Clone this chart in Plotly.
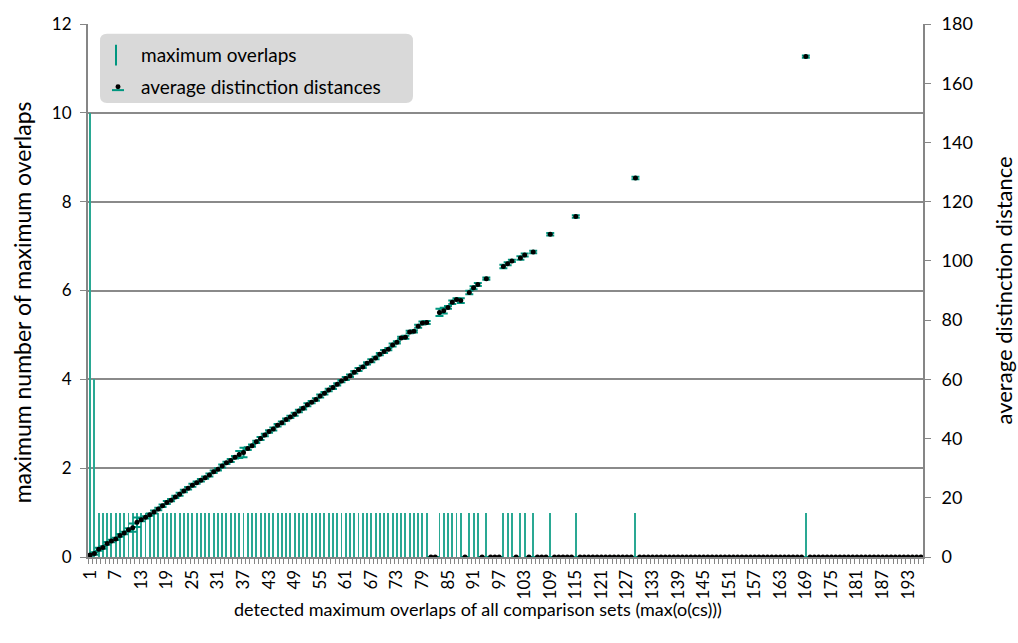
import plotly.graph_objects as go

# ---------------- data ----------------
categories = list(range(1, 197))

tick_labels = ["1", "7", "13", "19", "25", "31", "37", "43", "49", "55", "61", "67",
               "73", "79", "85", "91", "97", "103", "109", "115", "121", "127", "133",
               "139", "145", "151", "157", "163", "169", "175", "181", "187", "193"]

# maximum number of maximum overlaps (left axis)
max_overlaps = [
    10, 4, 1, 1, 1, 1, 1, 1, 1, 1,
    1, 1, 1, 1, 1, 1, 1, 1, 1, 1,
    1, 1, 1, 1, 1, 1, 1, 1, 1, 1,
    1, 1, 1, 1, 1, 1, 1, 1, 1, 1,
    1, 1, 1, 1, 1, 1, 1, 1, 1, 1,
    1, 1, 1, 1, 1, 1, 1, 1, 1, 1,
    1, 1, 1, 1, 1, 1, 1, 1, 1, 1,
    1, 1, 1, 1, 1, 1, 1, 1, 1, 1,
    0, 0, 1, 1, 1, 1, 1, 1, 0, 1,
    1, 1, 0, 1, 0, 0, 0, 1, 1, 1,
    0, 1, 1, 0, 1, 0, 0, 0, 1, 0,
    0, 0, 0, 0, 1, 0, 0, 0, 0, 0,
    0, 0, 0, 0, 0, 0, 0, 0, 1, 0,
    0, 0, 0, 0, 0, 0, 0, 0, 0, 0,
    0, 0, 0, 0, 0, 0, 0, 0, 0, 0,
    0, 0, 0, 0, 0, 0, 0, 0, 0, 0,
    0, 0, 0, 0, 0, 0, 0, 0, 1, 0,
    0, 0, 0, 0, 0, 0, 0, 0, 0, 0,
    0, 0, 0, 0, 0, 0, 0, 0, 0, 0,
    0, 0, 0, 0, 0, 0,
]

# average distinction distance (right axis)
avg_distance = [
    0.7, 1.2, 2.6, 3.2, 4.6, 5.4, 6.1, 7.3, 8.1, 9.2,
    9.9, 11.7, 12.6, 13.4, 14.3, 15.2, 16.2, 17.3, 18.4, 19.2,
    20.3, 21.2, 22.3, 23.2, 24.2, 25.1, 25.9, 26.8, 27.7, 28.8,
    29.6, 30.7, 31.8, 32.6, 33.7, 34.6, 35.3, 36.6, 37.6, 38.9,
    40.0, 41.2, 42.4, 43.2, 44.5, 45.3, 46.4, 47.3, 48.2, 49.3,
    50.2, 51.4, 52.3, 53.2, 54.4, 55.3, 56.4, 57.2, 58.3, 59.4,
    60.3, 61.2, 62.4, 63.3, 64.2, 65.4, 66.3, 67.2, 68.5, 69.4,
    70.2, 71.6, 72.5, 74.0, 74.2, 76.0, 76.2, 77.9, 79.0, 79.2,
    0, 0, 82.6, 83.2, 84.3, 86.0, 87.0, 86.6, 0, 89.3,
    90.9, 92.0, 0, 94.0, 0, 0, 0, 98.1, 99.0, 100.0,
    0, 101.0, 102.0, 0, 103.0, 0, 0, 0, 109.0, 0,
    0, 0, 0, 0, 115.0, 0, 0, 0, 0, 0,
    0, 0, 0, 0, 0, 0, 0, 0, 128.0, 0,
    0, 0, 0, 0, 0, 0, 0, 0, 0, 0,
    0, 0, 0, 0, 0, 0, 0, 0, 0, 0,
    0, 0, 0, 0, 0, 0, 0, 0, 0, 0,
    0, 0, 0, 0, 0, 0, 0, 0, 169.0, 0,
    0, 0, 0, 0, 0, 0, 0, 0, 0, 0,
    0, 0, 0, 0, 0, 0, 0, 0, 0, 0,
    0, 0, 0, 0, 0, 0,
]

distance_error = [
    0.3, 0.4, 0.5, 0.4, 0.5, 0.4, 0.4, 0.5, 0.4, 0.5,
    1.4, 1.6, 0.5, 0.4, 0.4, 0.5, 0.4, 0.4, 0.5, 0.4,
    0.4, 0.5, 0.4, 0.4, 0.5, 0.4, 0.4, 0.4, 0.5, 0.4,
    0.4, 0.5, 0.4, 0.5, 0.4, 1.2, 1.6, 0.5, 0.4, 0.4,
    0.5, 0.4, 0.4, 0.5, 0.4, 0.5, 0.4, 0.4, 0.5, 0.4,
    0.4, 0.5, 0.4, 0.4, 0.5, 0.4, 0.4, 0.5, 0.4, 0.4,
    0.5, 0.4, 0.4, 0.5, 0.4, 0.4, 0.5, 0.4, 0.4, 0.5,
    0.4, 0.5, 0.4, 0.4, 0.5, 0.4, 0.4, 0.5, 0.5, 0.5,
    0, 0, 1.2, 1.0, 0.5, 0.6, 0.4, 0.8, 0, 0.6,
    0.5, 0.5, 0, 0.4, 0, 0, 0, 0.6, 0.5, 0.4,
    0, 0.6, 0.5, 0, 0.4, 0, 0, 0, 0.4, 0,
    0, 0, 0, 0, 0.4, 0, 0, 0, 0, 0,
    0, 0, 0, 0, 0, 0, 0, 0, 0.4, 0,
    0, 0, 0, 0, 0, 0, 0, 0, 0, 0,
    0, 0, 0, 0, 0, 0, 0, 0, 0, 0,
    0, 0, 0, 0, 0, 0, 0, 0, 0, 0,
    0, 0, 0, 0, 0, 0, 0, 0, 0.4, 0,
    0, 0, 0, 0, 0, 0, 0, 0, 0, 0,
    0, 0, 0, 0, 0, 0, 0, 0, 0, 0,
    0, 0, 0, 0, 0, 0,
]

# ---------------- style ----------------
TEAL = "#00967f"
BAR_TEAL = "#2aa893"
GRID = "#8a8a8a"
AXIS = "#868686"
FONT = "Lato"
W, H = 1018, 643
L, R, T, B = 88, 95, 17, 86
PW, PH = W - L - R, H - T - B


def px(x):
    return (x - L) / PW


def py(y):
    return (H - B - y) / PH


fig = go.Figure()

fig.add_trace(go.Bar(
    x=categories, y=max_overlaps, width=0.22,
    marker=dict(color=BAR_TEAL, line=dict(width=0)),
    name="maximum overlaps", yaxis="y", showlegend=False,
))

fig.add_trace(go.Scatter(
    x=categories, y=avg_distance, mode="markers",
    marker=dict(color="black", size=5),
    error_y=dict(type="data", array=distance_error, visible=True,
                 color=TEAL, thickness=2, width=4),
    name="average distinction distances", yaxis="y2", showlegend=False,
))

tick_vals = [int(t) for t in tick_labels]

fig.update_layout(
    width=W, height=H,
    margin=dict(l=L, r=R, t=T, b=B),
    paper_bgcolor="white", plot_bgcolor="white",
    font=dict(family=FONT, color="black"),
    bargap=0,
    xaxis=dict(
        range=[0.5, 196.5], tickmode="array", tickvals=tick_vals, ticktext=tick_labels,
        tickangle=-90, ticks="", showgrid=False, zeroline=False,
        showline=True, linecolor=AXIS, linewidth=2,
        tickfont=dict(size=17, family=FONT), ticklabelstandoff=4,
        minor=dict(tickmode="array", tickvals=[c - 0.5 for c in categories] + [196.5],
                   ticks="outside", ticklen=5, tickcolor=AXIS, tickwidth=1, showgrid=False),
    ),
    yaxis=dict(
        range=[0, 12], dtick=2, tick0=0, showgrid=True, gridcolor=GRID, gridwidth=1.5,
        zeroline=False, showline=True, linecolor=AXIS, linewidth=2,
        ticks="outside", ticklen=6, tickcolor=AXIS,
        tickfont=dict(size=17, family=FONT), ticklabelstandoff=5,
    ),
    yaxis2=dict(
        range=[0, 180], dtick=20, tick0=0, overlaying="y", side="right",
        showgrid=False, zeroline=False, showline=True, linecolor=AXIS, linewidth=2,
        ticks="outside", ticklen=6, tickcolor=AXIS,
        tickfont=dict(size=18, family=FONT), ticklabelstandoff=7,
    ),
)

# axis titles
fig.add_annotation(text="maximum number of maximum overlaps", xref="paper", yref="paper",
                   x=px(22), y=py(299), xanchor="center", yanchor="middle",
                   textangle=-90, showarrow=False, font=dict(size=23, family=FONT))
fig.add_annotation(text="average distinction distance", xref="paper", yref="paper",
                   x=px(1003), y=py(287), xanchor="center", yanchor="middle",
                   textangle=-90, showarrow=False, font=dict(size=22, family=FONT))
fig.add_annotation(text="detected maximum overlaps of all comparison sets (max(o(cs)))",
                   xref="paper", yref="paper", x=px(478), y=py(610),
                   xanchor="center", yanchor="middle", showarrow=False,
                   font=dict(size=18, family=FONT))

# custom legend box
x0, y0, x1, y1 = px(100), py(97), px(413), py(27)
rx, ry = 7 / PW, 7 / PH
path = (f"M {x0+rx},{y0} L {x1-rx},{y0} Q {x1},{y0} {x1},{y0+ry} "
        f"L {x1},{y1-ry} Q {x1},{y1} {x1-rx},{y1} L {x0+rx},{y1} "
        f"Q {x0},{y1} {x0},{y1-ry} L {x0},{y0+ry} Q {x0},{y0} {x0+rx},{y0} Z")
fig.add_shape(type="path", path=path, xref="paper", yref="paper",
              fillcolor="#d9d9d9", line=dict(width=0), layer="above")
fig.add_shape(type="line", xref="paper", yref="paper", x0=px(116), x1=px(116),
              y0=py(38), y1=py(59), line=dict(color=TEAL, width=2), layer="above")
fig.add_shape(type="line", xref="paper", yref="paper", x0=px(112), x1=px(124),
              y0=py(84), y1=py(84), line=dict(color=TEAL, width=2), layer="above")
fig.add_shape(type="circle", xref="paper", yref="paper", x0=px(115.5), x1=px(120.5),
              y0=py(83), y1=py(78), fillcolor="black", line=dict(width=0), layer="above")
fig.add_annotation(text="maximum overlaps", xref="paper", yref="paper",
                   x=px(139), y=py(48), xanchor="left", yanchor="middle",
                   showarrow=False, font=dict(size=19, family=FONT))
fig.add_annotation(text="average distinction distances", xref="paper", yref="paper",
                   x=px(139), y=py(80), xanchor="left", yanchor="middle",
                   showarrow=False, font=dict(size=19, family=FONT))

fig.write_html("out.html", post_script="document.body.style.margin='0';",
               config={"displayModeBar": False})
